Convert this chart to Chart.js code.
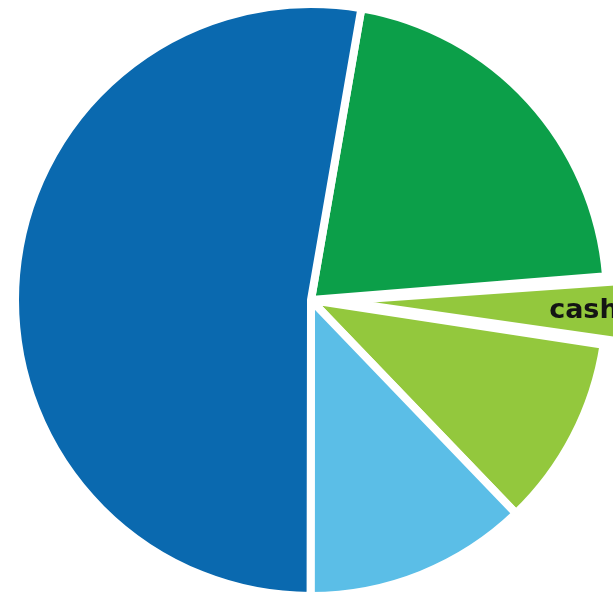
<!DOCTYPE html>
<html>
<head>
<meta charset="utf-8">
<title>Allocation</title>
<script src="https://cdn.jsdelivr.net/npm/chart.js@4.4.1/dist/chart.umd.min.js"></script>
<style>
    html, body {
        margin: 0;
        padding: 0;
        background: #ffffff;
        overflow: hidden;
    }
    #wrap {
        position: absolute;
        left: 0;
        top: 0;
        width: 622px;
        height: 600px;
    }
</style>
</head>
<body>
<div id="wrap">
    <canvas id="allocChart" width="622" height="600"></canvas>
</div>
<script>
// slices run clockwise, starting a little right of 12 o'clock
const sliceLabels = ['', 'cash', '', '', ''];
const sliceValues = [21.0, 3.7, 10.4, 12.2, 52.7];
const sliceColors = ['#0c9f49', '#93c83d', '#93c83d', '#5bbee7', '#0a69af'];
// chart.js moves an arc by a quarter of its offset
const sliceOffsets = [0, 104, 0, 0, 0];
const shownLabels = ['cash'];

// writes the name of a slice inside it, near the rim
const sliceTextPlugin = {
    id: 'sliceText',
    afterDatasetsDraw(chart) {
        const ctx = chart.ctx;
        const meta = chart.getDatasetMeta(0);
        meta.data.forEach((arc, i) => {
            const label = chart.data.labels[i];
            if (!shownLabels.includes(label)) return;
            const props = arc.getProps(['x', 'y', 'startAngle', 'endAngle', 'outerRadius']);
            const mid = (props.startAngle + props.endAngle) / 2;
            const dist = props.outerRadius * 0.805;
            ctx.save();
            ctx.font = 'bold 27px "DejaVu Sans", sans-serif';
            ctx.fillStyle = '#141414';
            ctx.textAlign = 'left';
            ctx.textBaseline = 'middle';
            ctx.fillText(label, props.x + Math.cos(mid) * dist, props.y + Math.sin(mid) * dist + 2);
            ctx.restore();
        });
    }
};

new Chart(document.getElementById('allocChart'), {
    type: 'pie',
    data: {
        labels: sliceLabels,
        datasets: [{
            data: sliceValues,
            backgroundColor: sliceColors,
            borderColor: '#ffffff',
            borderWidth: 8,
            offset: sliceOffsets
        }]
    },
    options: {
        responsive: false,
        animation: false,
        rotation: 9.8,
        radius: 296,
        layout: { padding: 0 },
        plugins: {
            legend: { display: false },
            tooltip: { enabled: false }
        }
    },
    plugins: [sliceTextPlugin]
});
</script>
</body>
</html>
